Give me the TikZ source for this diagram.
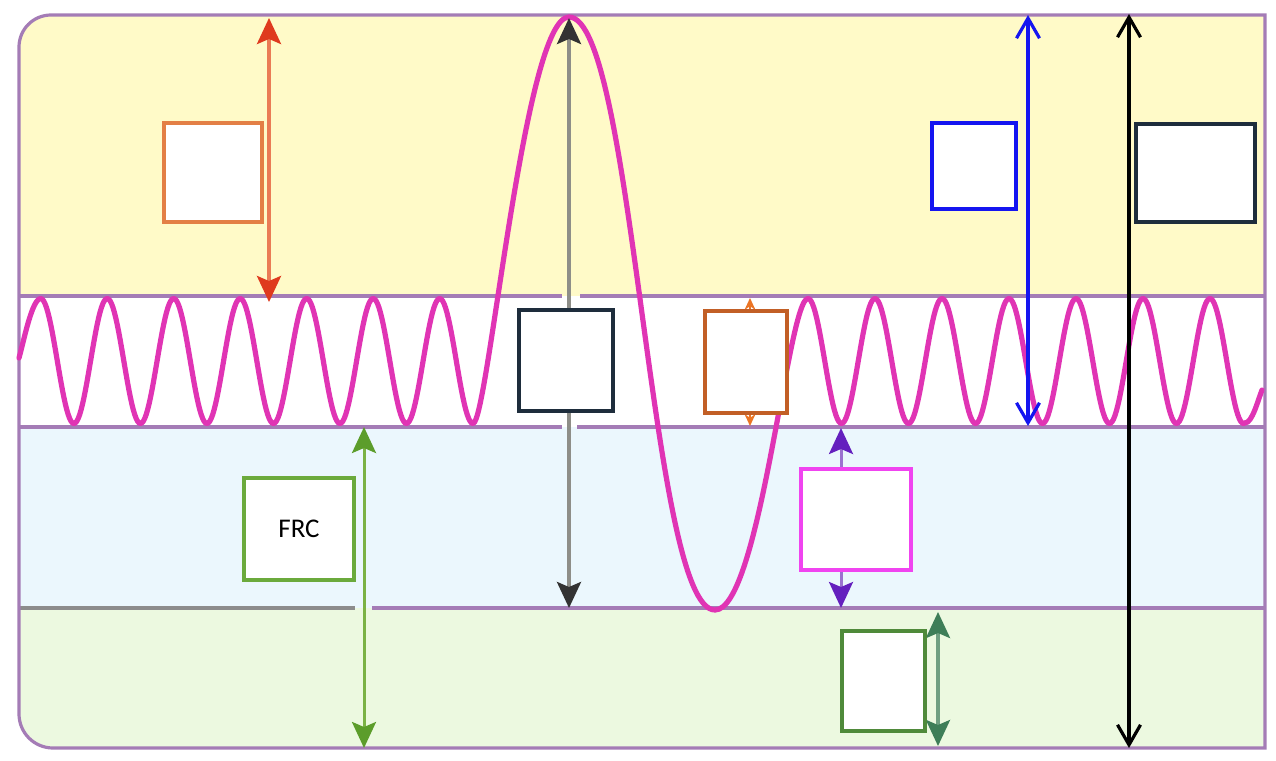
\documentclass[tikz,border=0pt]{standalone}
\usepackage{fontspec}
\newfontfamily\carlito{Carlito}
\usetikzlibrary{arrows.meta}
\definecolor{yellowband}{HTML}{FFFAC8}
\definecolor{blueband}{HTML}{EBF7FD}
\definecolor{greenband}{HTML}{ECF9E0}
\definecolor{bandpurple}{HTML}{A47CB6}
\definecolor{bandgray}{HTML}{8C8C8C}
\definecolor{wavepink}{HTML}{E034B4}
\definecolor{boxorange}{HTML}{E37F45}
\definecolor{redline}{HTML}{EA7B55}
\definecolor{redhead}{HTML}{DF3A1E}
\definecolor{grayline}{HTML}{8E8E88}
\definecolor{grayhead}{HTML}{333333}
\definecolor{navy}{HTML}{1E2D3C}
\definecolor{brownbox}{HTML}{C25F26}
\definecolor{orangesmall}{HTML}{EB7525}
\definecolor{magentabox}{HTML}{F044F0}
\definecolor{purpleline}{HTML}{9B72CF}
\definecolor{purplehead}{HTML}{6420BE}
\definecolor{dgreenbox}{HTML}{4F8A3A}
\definecolor{dgreenline}{HTML}{6F9F81}
\definecolor{dgreenhead}{HTML}{3E7E58}
\definecolor{lgreenbox}{HTML}{6BAA3C}
\definecolor{lgreenline}{HTML}{7BB245}
\definecolor{lgreenhead}{HTML}{5C9D2B}
\definecolor{bluearrow}{HTML}{1515F0}
\begin{document}
\begin{tikzpicture}[x=1pt,y=-1pt,
  bandline/.style={draw=bandpurple, line width=3.2pt},
  grayband/.style={draw=bandgray, line width=3.2pt},
  wave/.style={draw=wavepink, line width=5.2pt, line join=round, line cap=round},
  box/.style={draw, fill=white, line width=3.6pt, inner sep=0pt},
  filledarrow/.style n args={2}{draw=#1, line width=3.6pt,
    <->, >={Stealth[length=26pt,width=24pt,inset=5pt,color=#2]}},
  openarrow/.style={draw=#1, line width=3.2pt,
    <->, >={Straight Barb[length=20pt,width=23pt]}}
]
\useasboundingbox (0,0) rectangle (1276,760);
% background
\fill[white] (1265,15) -- (51,15) arc[start angle=270,end angle=180,radius=32]
  -- (19,714) arc[start angle=180,end angle=90,radius=34] -- (1265,748) -- cycle;
\begin{scope}
\clip (1265,15) -- (51,15) arc[start angle=270,end angle=180,radius=32]
  -- (19,714) arc[start angle=180,end angle=90,radius=34] -- (1265,748) -- cycle;
\fill[yellowband] (0,0) rectangle (1276,296);
\fill[blueband] (0,427) rectangle (1276,608);
\fill[greenband] (0,608) rectangle (1276,760);
\end{scope}
% band lines
\draw[bandline] (19,296) -- (562,296);
\draw[bandline] (580,296) -- (1265,296);
\draw[bandline] (19,427) -- (562,427);
\draw[bandline] (577,427) -- (1265,427);
\draw[grayband] (19,608) -- (355,608);
\draw[bandline] (372,608) -- (1265,608);
\draw[bandline] (1265,15) -- (51,15) arc[start angle=270,end angle=180,radius=32]
  -- (19,714) arc[start angle=180,end angle=90,radius=34] -- (1265,748) -- cycle;
% breathing wave
\draw[wave] (19,358) .. controls (24,340) and (32,299) .. (40.7,298.5)
  -- plot[domain=40.7:473, samples=300] (\x,{361-62.5*cos(((\x-40.7)/66.5)*360)})
  .. controls (488,423.5) and (524,17) .. (569,17)
  .. controls (634,17) and (650,610) .. (715,610)
  .. controls (760,610) and (788,298.5) .. (808,298.5)
  -- plot[domain=808:1245, samples=300] (\x,{361-62.5*cos(((\x-808)/67)*360)})
  .. controls (1252,423.5) and (1258,400) .. (1262,390);
% arrow end points
\coordinate (redT) at (269,18);
\coordinate (redB) at (269,302);
\coordinate (grayT) at (569,18);
\coordinate (grayB) at (569,608);
\coordinate (smallT) at (750,298);
\coordinate (smallB) at (750,426);
\coordinate (purT) at (841,428);
\coordinate (purB) at (841,608);
\coordinate (dgT) at (938,612);
\coordinate (dgB) at (938,746);
\coordinate (lgT) at (364,427);
\coordinate (lgB) at (364,748);
\coordinate (blueT) at (1028,15);
\coordinate (blueB) at (1028,426);
\coordinate (blackT) at (1129,14);
\coordinate (blackB) at (1129,748);
% arrows
\draw[filledarrow={redline}{redhead}] (redT) -- (redB);
\draw[filledarrow={grayline}{grayhead}] (grayT) -- (grayB);
\draw[draw=orangesmall, line width=2.5pt, <->, >={Stealth[length=12pt,width=11pt]}] (smallT) -- (smallB);
\draw[filledarrow={purpleline}{purplehead}, line width=3pt] (purT) -- (purB);
\draw[filledarrow={dgreenline}{dgreenhead}] (dgT) -- (dgB);
\draw[filledarrow={lgreenline}{lgreenhead}, line width=3pt] (lgT) -- (lgB);
\draw[openarrow=bluearrow] (blueT) -- (blueB);
\draw[openarrow=black] (blackT) -- (blackB);
% boxes
\node[box, draw=boxorange, minimum width=98.5pt, minimum height=99.5pt] (boxA) at (213,172.5) {};
\node[box, draw=navy, minimum width=94.5pt, minimum height=101.5pt] (boxB) at (566,360.5) {};
\node[box, draw=brownbox, minimum width=82.5pt, minimum height=102.5pt] (boxC) at (746,362) {};
\node[box, draw=magentabox, minimum width=110.5pt, minimum height=101.5pt] (boxD) at (856,519.5) {};
\node[box, draw=dgreenbox, minimum width=83.5pt, minimum height=100.5pt] (boxE) at (883.5,681) {};
\node[box, draw=bluearrow, minimum width=84.5pt, minimum height=85.5pt] (boxF) at (974,166) {};
\node[box, draw=navy, minimum width=119.5pt, minimum height=98.5pt] (boxG) at (1195.5,173) {};
\node[box, draw=lgreenbox, minimum width=109.5pt, minimum height=101.5pt, font=\carlito\fontsize{27}{31}\selectfont] (boxH) at (299,529) {FRC};
\end{tikzpicture}
\end{document}
